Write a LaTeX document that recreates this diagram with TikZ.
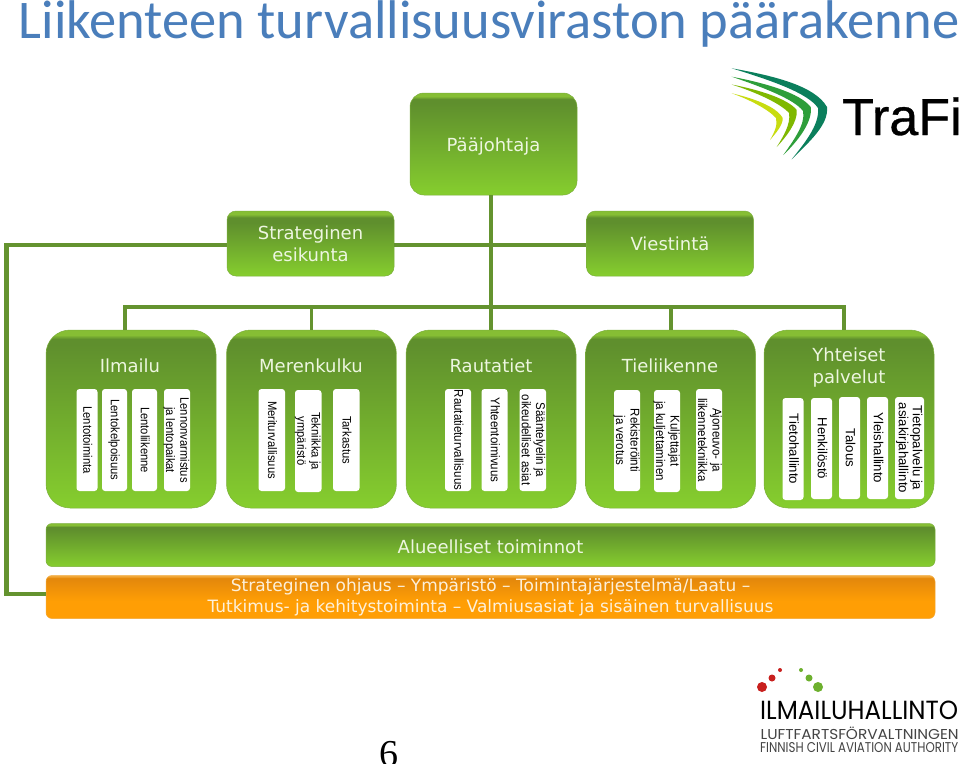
\documentclass[tikz,border=0pt]{standalone}
\usepackage{fontspec}
\setmainfont{DejaVu Sans}
\newfontfamily\libf{Liberation Sans}
\newfontfamily\timf{Liberation Serif}
\newfontfamily\popf{Poppins}
\newfontfamily\carl{Carlito}
\newfontfamily\trafif[FakeBold=0.6]{Liberation Sans}
\definecolor{line}{HTML}{64932F}
\definecolor{rim}{HTML}{86BE34}
\definecolor{gdark}{HTML}{5F8F2D}
\definecolor{gbot}{HTML}{86CE2E}
\definecolor{edge}{HTML}{7CB03C}
\definecolor{orim}{HTML}{F2A93A}
\definecolor{odark}{HTML}{E5890B}
\definecolor{obot}{HTML}{FF9E05}
\definecolor{lab}{HTML}{EDF6E0}
\definecolor{olab}{HTML}{FDF0DA}
\definecolor{titlec}{HTML}{4A7EBB}
\definecolor{sw1}{HTML}{0B7F5C}
\definecolor{sw2}{HTML}{2E9E3A}
\definecolor{sw3}{HTML}{7FB800}
\definecolor{sw4}{HTML}{C8DC10}
\definecolor{dotr}{HTML}{C8201E}
\definecolor{dotg}{HTML}{6DB02E}
\definecolor{greyt}{HTML}{444444}
\pgfdeclareverticalshading{gA}{100bp}{color(0bp)=(gbot);color(25bp)=(gbot);color(71bp)=(gdark);color(72.5bp)=(gdark);color(73.6bp)=(rim);color(100bp)=(rim)}
\pgfdeclareverticalshading{gB}{100bp}{color(0bp)=(gbot);color(25bp)=(gbot);color(70bp)=(gdark);color(72bp)=(gdark);color(73.4bp)=(rim);color(100bp)=(rim)}
\pgfdeclareverticalshading{gC}{100bp}{color(0bp)=(gbot);color(25bp)=(gbot);color(66bp)=(gdark);color(70bp)=(gdark);color(72.5bp)=(rim);color(100bp)=(rim)}
\pgfdeclareverticalshading{gD}{100bp}{color(0bp)=(gbot);color(25bp)=(gbot);color(68bp)=(gdark);color(71bp)=(gdark);color(73bp)=(rim);color(100bp)=(rim)}
\pgfdeclareverticalshading{oD}{100bp}{color(0bp)=(obot);color(25bp)=(obot);color(45bp)=(obot);color(70bp)=(odark);color(72bp)=(odark);color(74bp)=(orim);color(100bp)=(orim)}
\tikzset{
  x=1pt,y=-1pt,
  box/.style={rectangle,draw=edge,line width=.5pt,inner sep=0pt,align=center,text=lab,font=\fontsize{18}{22}\selectfont},
  head/.style={box,shading=gA,rounded corners=24pt,minimum width=170pt,minimum height=178pt},
  mid/.style={box,shading=gC,rounded corners=9pt,minimum width=167pt,minimum height=65pt},
  band/.style={box,shading=gD,rounded corners=6pt,minimum width=889pt,minimum height=43pt},
  leaf/.style={rectangle,fill=white,rounded corners=3pt,inner sep=0pt},
  leaftext/.style={rotate=-90,text=black,font=\libf\selectfont,inner sep=0pt},
  link/.style={draw=line,line width=3.6pt},
  linkthick/.style={draw=line,line width=4.4pt},
  heading/.style={align=center,text=lab,font=\fontsize{18}{22}\selectfont,inner sep=0pt},
  logotext/.style={inner sep=0pt,anchor=west},
}
\newcommand{\leafsize}{11.2}
\newcommand{\leafskip}{13}
\newcommand{\leafstretch}{1.1}
\newcommand{\leafbox}[6]{%
  \node[leaf,minimum width=#3pt-#2pt,minimum height=#5pt-#4pt] (#1) at ({(#2+#3)/2},{(#4+#5)/2}) {};
  \node[leaftext] (#1t) at ([xshift=-.8pt]#1.center) {\fontsize{\leafsize}{\leafskip}\selectfont\scalebox{1}[\leafstretch]{\begin{tabular}{@{}c@{}}#6\end{tabular}}};
}
\begin{document}
\begin{tikzpicture}
\useasboundingbox (0,0) rectangle (960,763);
\fill[white] (0,0) rectangle (960,763);

% title
\node[inner sep=0pt,text=titlec,font=\carl\fontsize{54.5}{56}\selectfont,anchor=base] (title) at (489,38) {Liikenteen turvallisuusviraston päärakenne};

% main boxes
\node[box,shading=gB,rounded corners=14pt,minimum width=167pt,minimum height=102pt] (paa) at (493.5,144) {\raisebox{0pt}[15pt][0pt]{Pääjohtaja}};
\node[mid] (str) at (310.5,243.5) {Strateginen\\esikunta};
\node[mid] (vie) at (670,243.5) {Viestintä};

\node[head] (ilm) at (131,419) {};
\node[head] (mer) at (311.5,419) {};
\node[head] (rau) at (491,419) {};
\node[head] (tie) at (670.5,419) {};
\node[head] (yht) at (849,419) {};
\node[heading] (ilml) at (130,366) {Ilmailu};
\node[heading] (merl) at (311,366) {Merenkulku};
\node[heading] (raul) at (491,366) {Rautatiet};
\node[heading] (tiel) at (670,366) {Tieliikenne};
\node[heading] (yhtl) at (849,368) {Yhteiset\\palvelut};

\node[band] (alu) at (490.5,545) {\raisebox{0pt}[17.6pt][0pt]{Alueelliset toiminnot}};
\node[box,shading=oD,draw=orim,rounded corners=6pt,minimum width=889pt,minimum height=43pt,font=\fontsize{17}{21}\selectfont,text=olab] (ohj) at (490.5,597) {Strateginen ohjaus – Ympäristö – Toimintajärjestelmä/Laatu –\\Tutkimus- ja kehitystoiminta – Valmiusasiat ja sisäinen turvallisuus};

% connectors
\coordinate (busy) at (491.5,307);
\coordinate (liney) at (491.5,245);
\coordinate (corner) at (6.5,245);
\coordinate (oy) at (491.5,594);
\draw[link] (rau.north |- paa.south) -- (rau.north);
\draw[link] (str.east |- liney) -- (vie.west |- liney);
\draw[link] ([xshift=-6pt]ilm.north |- busy) -- ([xshift=-6pt]ilm.north);
\draw[link] (mer.north |- busy) -- (mer.north);
\draw[link] ([xshift=.5pt]tie.north |- busy) -- ([xshift=.5pt]tie.north);
\draw[link] ([xshift=-5pt]yht.north |- busy) -- ([xshift=-5pt]yht.north);
\draw[link] ([xshift=-7.8pt]ilm.north |- busy) -- ([xshift=-3.2pt]yht.north |- busy);
\draw[linkthick] (str.west |- liney) -- (corner) |- (ohj.west |- oy);

% leaves
\leafbox{a}{76.5}{97.5}{389}{491}{Lentotoiminta}
\leafbox{b}{102}{127}{389}{491}{Lentokelpoisuus}
\leafbox{c}{132}{157}{389}{491}{Lentoliikenne}
\leafbox{d}{164}{190}{389}{491}{Lennonvarmistus\\ja lentopaikat}
\leafbox{e}{258.5}{285}{389}{491}{Meriturvallisuus}
\leafbox{f}{295}{321.5}{390}{492}{Tekniikka ja\\ympäristö}
\leafbox{g}{333}{359.5}{389}{491}{Tarkastus}
\renewcommand{\leafsize}{11.5}
\leafbox{h}{445}{471}{389}{491}{Rautatieturvallisuus}
\leafbox{i}{481.5}{507.5}{389}{491}{Yhteentoimivuus}
\leafbox{j}{519.5}{546}{389}{491}{Sääntelyelin ja\\oikeudelliset asiat}
\leafbox{k}{614}{640}{390}{491}{Rekisteröinti\\ja verotus}
\leafbox{l}{654}{680}{390}{492}{Kuljettajat\\ja kuljettaminen}
\leafbox{m}{696}{722}{389}{491}{Ajoneuvo- ja\\liikennetekniikka}
\renewcommand{\leafsize}{13.2}
\renewcommand{\leafskip}{14}
\renewcommand{\leafstretch}{1}
\leafbox{n}{782.5}{803.5}{398}{500}{Tietohallinto}
\leafbox{o}{811}{832}{398}{499}{Henkilöstö}
\leafbox{p}{839}{860}{397}{499}{Talous}
\leafbox{q}{867}{888}{397}{499}{Yleishallinto}
\leafbox{r}{895}{924}{397}{499}{Tietopalvelu ja\\asiakirjahallinto}

% page number
\node[inner sep=0pt,anchor=base,font=\timf\fontsize{38}{38}\selectfont,text=black] (pg) at (388.5,766) {6};

% TraFi logo
\fill[sw1] (731.7,68.3) .. controls (775,76) and (815,86) .. (827,107) .. controls (829,125) and (808,143) .. (791.7,159.3) .. controls (803,145) and (820,125) .. (818,108) .. controls (808,93) and (770,80) .. cycle;
\fill[sw2] (731.7,76.7) .. controls (765,83) and (800,93) .. (810.7,107) .. controls (813,122) and (797,142) .. (783.3,155) .. controls (793,141) and (806,124) .. (803,111) .. controls (794,99) and (762,87) .. cycle;
\fill[sw3] (731.7,84.5) .. controls (760,90) and (788,99) .. (796.7,110) .. controls (798,122) and (786,137) .. (776.7,147) .. controls (783,137) and (791,124) .. (789,113) .. controls (780,103) and (755,92) .. cycle;
\fill[sw4] (731.7,93.3) .. controls (752,98) and (776,106) .. (782.7,118) .. controls (783,125) and (776,133) .. (770,140) .. controls (774,133) and (778,125) .. (776,118) .. controls (768,109) and (748,99) .. cycle;
\node[logotext,font=\trafif\fontsize{52}{52}\selectfont,text=black,anchor=base west] (trafi) at (842,135) {TraFi};

% Ilmailuhallinto logo
\fill[dotr] (762,687) circle (5);
\fill[dotr] (772,678) circle (3.5);
\fill[dotr] (780,670) circle (2);
\fill[dotg] (818,687) circle (5);
\fill[dotg] (809,678) circle (3.5);
\fill[dotg] (801,670) circle (2);
\node[logotext,text=black] (il1) at (760,710) {\resizebox{198pt}{18.5pt}{\popf ILMAILUHALLINTO}};
\node[logotext,text=greyt] (il2) at (760.5,733.5) {\resizebox{198pt}{12.5pt}{\popf LUFTFARTSFÖRVALTNINGEN}};
\node[logotext,text=greyt] (il3) at (760,748) {\resizebox{198pt}{10pt}{\popf FINNISH CIVIL AVIATION AUTHORITY}};
\end{tikzpicture}
\end{document}
